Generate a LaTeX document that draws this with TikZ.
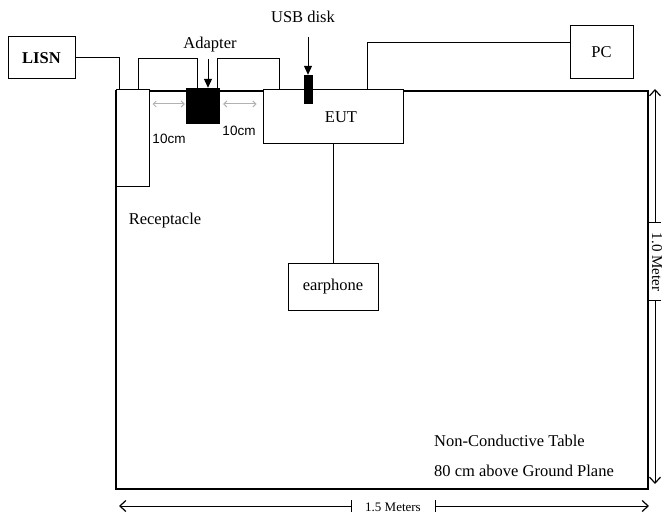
\documentclass[tikz,border=0pt]{standalone}
\usepackage{fontspec}
\setmainfont{Liberation Serif}
\newfontfamily\arialfont{Liberation Sans}
\usetikzlibrary{arrows.meta,calc}
\tikzset{>={Straight Barb[length=6pt,width=11pt,line width=1.2pt]}}
\newcommand{\lblfont}{\fontsize{16.5}{19}\selectfont}
\tikzset{
  tablebox/.style={draw,line width=2pt,inner sep=0pt},
  box/.style={draw,line width=1pt,fill=white,inner sep=0pt,font=\lblfont},
  plug/.style={fill=black,inner sep=0pt},
  cable/.style={line width=1pt},
  lbl/.style={font=\lblfont,inner sep=1pt},
  cmlbl/.style={font=\arialfont\fontsize{13.5}{15}\selectfont,inner sep=1pt},
  pointer/.style={line width=1pt,-{Triangle[length=9pt,width=8pt]}},
  gaparrow/.style={gray!60,line width=1pt,{Straight Barb[length=3pt,width=6pt]}-{Straight Barb[length=3pt,width=6pt]}},
  dimarrow/.style={line width=1pt,{Bar[width=12pt,line width=1pt]}->}
}

\begin{document}
\begin{tikzpicture}[x=1pt,y=-1pt]
\useasboundingbox (0,0) rectangle (665,519);
% table top
\node[tablebox,minimum width=532pt,minimum height=398pt] (table) at (382,290) {};
% equipment
\node[box,minimum width=67pt,minimum height=42pt,font=\lblfont\bfseries] (lisn) at (41.5,58) {LISN};
\node[box,minimum width=33pt,minimum height=96pt] (rec) at (132.5,138) {};
\node[box,minimum width=140pt,minimum height=54pt] (eut) at (333,117) {\hspace*{16pt}EUT};
\node[box,minimum width=63pt,minimum height=53pt] (pc) at (601.5,52.5) {PC};
\node[box,minimum width=90pt,minimum height=47pt] (ear) at (333,286.5) {earphone};
\node[plug,minimum width=34pt,minimum height=36pt] (adapter) at (203,106) {};
\node[plug,minimum width=9pt,minimum height=29pt] (usb) at (308.5,89.5) {};
% cables
\draw[cable] (lisn.east) -| ([xshift=4pt]rec.north west);
\draw[cable] ([xshift=-11pt]rec.north east) -- ++(0,-31) -| ([xshift=-6pt]adapter.north);
\draw[cable] ([xshift=14pt]adapter.north) -- ++(0,-29) -| ([xshift=17pt]eut.north west);
\draw[cable] ([xshift=-36pt]eut.north east) |- ([yshift=9.5pt]pc.west);
\draw[cable] (eut.south) -- (ear.north);
% labels with pointers
\node[lbl] (adlbl) at (210,45) {Adapter};
\node[lbl] (usblbl) at (303,17) {USB disk};
\coordinate (adtop) at (208,59);
\coordinate (usbtop) at (308,37);
\draw[pointer] (adtop) -- (adtop |- adapter.north);
\draw[pointer] (usbtop) -- (usbtop |- usb.north);
\node[lbl] (reclbl) at (165,221) {Receptacle};
% 10cm gaps
\draw[gaparrow] ($(rec.east |- adapter.west)+(3,-2)$) -- ($(adapter.west)+(-1,-2)$);
\draw[gaparrow] ($(adapter.east)+(3,-2)$) -- ($(eut.west |- adapter.east)+(-6,-2)$);
\node[cmlbl] (gapl) at (169,139) {10cm};
\node[cmlbl] (gapr) at (239,131) {10cm};
% table notes
\node[lbl,anchor=west] (tbl1) at (433,441) {Non-Conductive Table};
\node[lbl,anchor=west] (tbl2) at (433,471) {80 cm above Ground Plane};
% dimensions
\node[lbl,font=\fontsize{15}{16}\selectfont,rotate=-90] (vlbl) at (657,262) {1.0 Meter};
\coordinate (vtop) at (655,89);
\coordinate (vbar1) at (655,223);
\coordinate (vbar2) at (655,300);
\coordinate (vbot) at (655,484);
\draw[dimarrow] (vbar1) -- (vtop);
\draw[dimarrow] (vbar2) -- (vbot);
\node[lbl,font=\fontsize{13}{14}\selectfont] (hlbl) at (393,507) {1.5 Meters};
\coordinate (hleft) at (119,506);
\coordinate (hbar1) at (352,506);
\coordinate (hbar2) at (435,506);
\coordinate (hright) at (649,506);
\draw[dimarrow] (hbar1) -- (hleft);
\draw[dimarrow] (hbar2) -- (hright);
\end{tikzpicture}
\end{document}
